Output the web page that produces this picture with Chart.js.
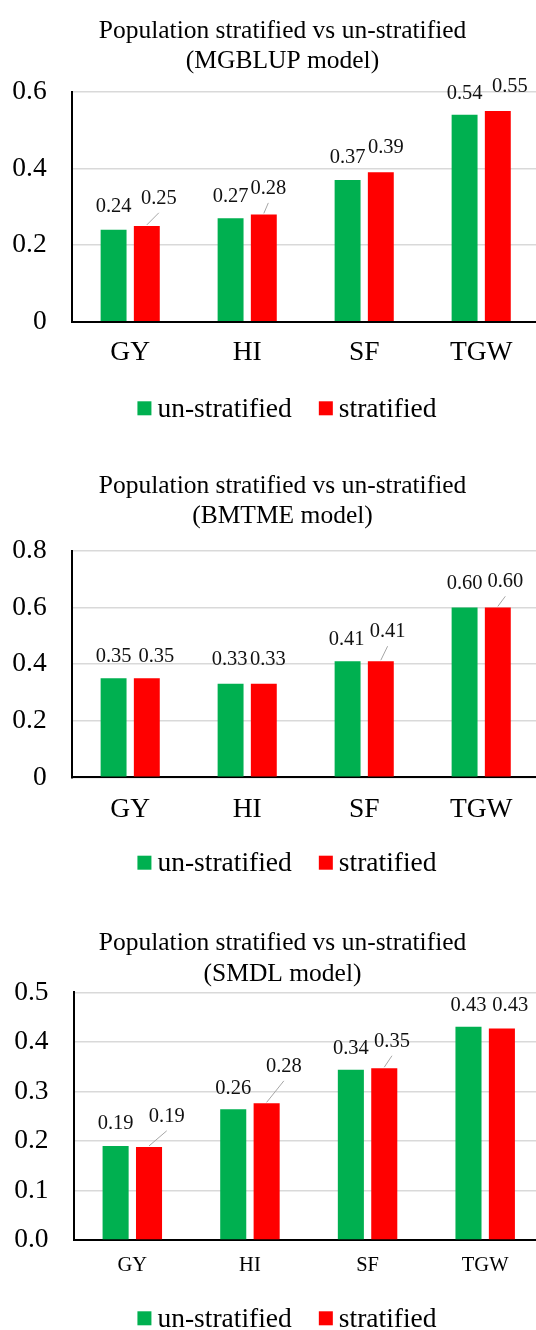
<!DOCTYPE html>
<html>
<head>
<meta charset="utf-8">
<script src="https://cdn.jsdelivr.net/npm/chart.js@4.4.1/dist/chart.umd.min.js"></script>
<style>
  html, body { margin: 0; padding: 0; background: #fff; width: 536px; height: 1330px; overflow: hidden; }
  .panel { position: absolute; left: 0; width: 536px; overflow: hidden; }
  canvas { display: block; }
</style>
</head>
<body>
<div class="panel" style="top:0;height:450px"><canvas id="mgblup" width="565" height="450"></canvas></div>
<div class="panel" style="top:450px;height:450px"><canvas id="bmtme" width="565" height="450"></canvas></div>
<div class="panel" style="top:900px;height:430px"><canvas id="smdl" width="565" height="430"></canvas></div>
<script>
// Traits on the x axis and the two series
const traits = ['GY', 'HI', 'SF', 'TGW'];
const seriesNames = ['un-stratified', 'stratified'];
const titleLine = 'Population stratified vs un-stratified';

// Prediction accuracy per model
const mgblupUnstratified = [0.24, 0.27, 0.37, 0.54];
const mgblupStratified   = [0.25, 0.28, 0.39, 0.55];
const bmtmeUnstratified  = [0.35, 0.33, 0.41, 0.60];
const bmtmeStratified    = [0.35, 0.33, 0.41, 0.60];
const smdlUnstratified   = [0.190, 0.264, 0.344, 0.431];
const smdlStratified     = [0.188, 0.276, 0.347, 0.427];

// Y axis tick values
const mgblupTicks = [0, 0.2, 0.4, 0.6];
const bmtmeTicks  = [0, 0.2, 0.4, 0.6, 0.8];
const smdlTicks   = [0, 0.1, 0.2, 0.3, 0.4, 0.5];

const SERIF = '"Liberation Serif", "Times New Roman", serif';
const GREEN = '#00B050';
const RED = '#FF0000';

// Value labels above the bars; each entry: [dx, dy, leader line]
const valueLabelPlugin = {
  id: 'valueLabels',
  afterDatasetsDraw(chart, args, opts) {
    const ctx = chart.ctx;
    ctx.save();
    ctx.font = opts.size + 'px ' + SERIF;
    ctx.textAlign = 'center';
    ctx.textBaseline = 'middle';
    chart.data.datasets.forEach((ds, di) => {
      const meta = chart.getDatasetMeta(di);
      meta.data.forEach((bar, i) => {
        const p = opts.place[di][i];
        const lx = bar.x + p[0];
        const ly = bar.y + p[1];
        if (p[2]) {
          ctx.strokeStyle = '#A6A6A6';
          ctx.lineWidth = 1;
          ctx.beginPath();
          ctx.moveTo(bar.x, bar.y - 1);
          ctx.lineTo(lx, ly + 14.5);
          ctx.stroke();
        }
        ctx.fillStyle = '#111';
        ctx.fillText(ds.data[i].toFixed(2), lx, ly);
      });
    });
    ctx.restore();
  }
};

// Legend row under the axis: square swatch + label
const legendPlugin = {
  id: 'bottomLegend',
  afterDraw(chart, args, opts) {
    const ctx = chart.ctx;
    ctx.save();
    ctx.font = opts.size + 'px ' + SERIF;
    ctx.textAlign = 'left';
    ctx.textBaseline = 'middle';
    const items = chart.data.datasets.map(d => ({ text: d.label, color: d.backgroundColor, w: ctx.measureText(d.label).width }));
    const box = 14, gap = 6, spacing = 27;
    const total = items.reduce((s, it) => s + box + gap + it.w, 0) + spacing * (items.length - 1);
    let x = opts.centerX - total / 2;
    const y = chart.chartArea.bottom + opts.offset;
    items.forEach(it => {
      ctx.fillStyle = it.color;
      ctx.fillRect(x, y - box / 2, box, box);
      x += box + gap;
      ctx.fillStyle = '#000';
      ctx.fillText(it.text, x, y + 1);
      x += it.w + spacing;
    });
    ctx.restore();
  }
};

function drawPanel(id, c) {
  new Chart(document.getElementById(id), {
    type: 'bar',
    data: {
      labels: traits,
      datasets: [
        { label: seriesNames[0], data: c.unstratified, backgroundColor: GREEN, borderWidth: 0,
          categoryPercentage: 0.568, barPercentage: 0.78 },
        { label: seriesNames[1], data: c.stratified, backgroundColor: RED, borderWidth: 0,
          categoryPercentage: 0.568, barPercentage: 0.78 }
      ]
    },
    options: {
      responsive: false,
      animation: false,
      devicePixelRatio: 1,
      layout: { padding: { left: 0, right: 0, top: 0, bottom: c.padBottom } },
      plugins: {
        legend: { display: false },
        tooltip: { enabled: false },
        title: {
          display: true,
          text: [titleLine, c.subtitle],
          color: '#000',
          font: { family: SERIF, size: 25.5, weight: 'normal', lineHeight: 1.18 },
          padding: { top: c.titleTop, bottom: c.titleBottom }
        },
        valueLabels: { size: 20.5, place: c.place },
        bottomLegend: { size: 27.5, centerX: 287, offset: c.legendOffset }
      },
      scales: {
        x: {
          grid: { display: false, drawTicks: false, tickLength: 0 },
          border: { display: true, color: '#000', width: 2 },
          ticks: { color: '#000', font: { family: SERIF, size: c.catSize }, padding: c.catPad }
        },
        y: {
          min: 0,
          max: c.ticks[c.ticks.length - 1],
          afterBuildTicks: s => { s.ticks = c.ticks.map(v => ({ value: v })); },
          afterFit: s => { s.width = c.axisX; },
          grid: { color: '#D9D9D9', lineWidth: 1.5, drawTicks: false },
          border: { display: true, color: '#000', width: 2 },
          ticks: { color: '#000', font: { family: SERIF, size: 27.5 }, padding: 25,
                   callback: v => c.fmt(v) }
        },
        // empty strip on the right so the plot stops short of the canvas edge
        side: {
          position: 'right',
          grid: { display: false, drawTicks: false },
          border: { display: false },
          ticks: { display: false },
          afterFit: s => { s.width = c.padRight; }
        }
      }
    },
    plugins: [valueLabelPlugin, legendPlugin]
  });
}

drawPanel('mgblup', {
  subtitle: '(MGBLUP model)',
  unstratified: mgblupUnstratified, stratified: mgblupStratified, ticks: mgblupTicks,
  fmt: v => String(+v.toFixed(1)),
  titleTop: 15.8, titleBottom: 15.8, padRight: 25.3, padBottom: 65.3,
  axisX: 71.7, catSize: 27.5, catPad: 15, legendOffset: 86.6,
  place: [
    [[0, -23, 0], [0, -21.5, 0], [0, -22.6, 0], [0, -21.4, 0]],
    [[12, -27.6, 1], [4.5, -26, 1], [5, -25, 0], [12, -24.2, 0]]
  ]
});

drawPanel('bmtme', {
  subtitle: '(BMTME model)',
  unstratified: bmtmeUnstratified, stratified: bmtmeStratified, ticks: bmtmeTicks,
  fmt: v => String(+v.toFixed(1)),
  titleTop: 20.8, titleBottom: 19.8, padRight: 25.3, padBottom: 57.3,
  axisX: 71.7, catSize: 27.5, catPad: 16.2, legendOffset: 85.4,
  place: [
    [[0, -21.5, 0], [-1, -23.8, 0], [-1, -21.9, 0], [0, -24, 0]],
    [[9.5, -21.5, 0], [4, -23.8, 0], [6.8, -29.5, 1], [7.5, -25.6, 1]]
  ]
});

drawPanel('smdl', {
  subtitle: '(SMDL model)',
  unstratified: smdlUnstratified, stratified: smdlStratified, ticks: smdlTicks,
  fmt: v => v.toFixed(1),
  titleTop: 28.7, titleBottom: 3.6, padRight: 21, padBottom: 38.6,
  axisX: 73.5, catSize: 20.5, catPad: 13.4, legendOffset: 78.3,
  place: [
    [[0, -22.4, 0], [0, -21, 0], [0, -21, 0], [0, -21, 0]],
    [[17.7, -30.6, 1], [17.2, -37, 1], [7.7, -27, 1], [8.3, -23.3, 0]]
  ]
});
</script>
</body>
</html>
